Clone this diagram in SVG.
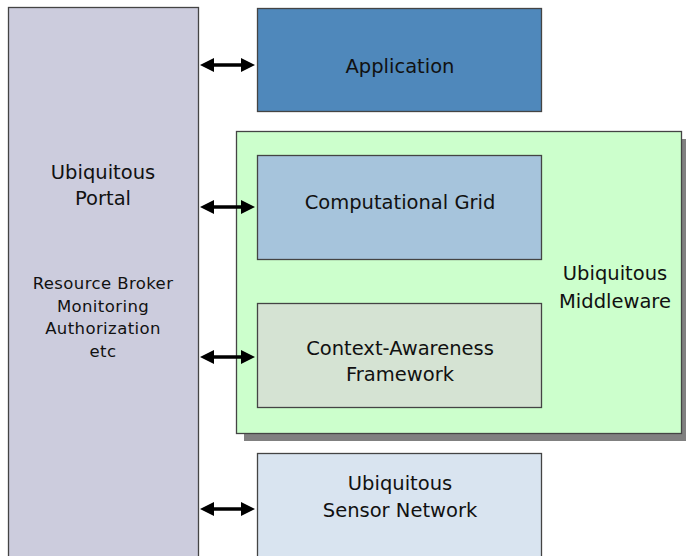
<svg xmlns="http://www.w3.org/2000/svg" width="686" height="556" viewBox="0 0 686 556">
<style>
.box{stroke:#444;stroke-width:1.3}
.t{font-family:"DejaVu Sans","Liberation Sans",sans-serif;font-size:19.5px;fill:#111;text-anchor:middle}
.s{font-family:"DejaVu Sans","Liberation Sans",sans-serif;font-size:16.5px;letter-spacing:0.4px;fill:#111;text-anchor:middle}
.c{stroke:#000;stroke-width:3.5;fill:none;marker-start:url(#ah);marker-end:url(#ah)}
</style>
<defs>
<marker id="ah" viewBox="0 0 14 14" refX="8" refY="7" markerWidth="14" markerHeight="14" orient="auto-start-reverse" markerUnits="userSpaceOnUse">
<path d="M0,0 L14,7 L0,14 Z" fill="#000"/>
</marker>
</defs>
<rect width="686" height="556" fill="#fff"/>
<g id="portal">
<rect class="box" x="8.5" y="7.5" width="190" height="560" fill="#ccccdd"/>
<text class="t" x="103" y="179">Ubiquitous</text>
<text class="t" x="103" y="205">Portal</text>
<text class="s" x="103" y="289">Resource Broker</text>
<text class="s" x="103" y="312">Monitoring</text>
<text class="s" x="103" y="334">Authorization</text>
<text class="s" x="103" y="357">etc</text>
</g>
<g id="application">
<rect class="box" x="257.5" y="8.5" width="284" height="103" fill="#4f88bb"/>
<text class="t" x="400" y="73">Application</text>
</g>
<g id="middleware">
<rect x="244" y="139" width="445" height="302" fill="#808080"/>
<rect class="box" x="236.5" y="131.5" width="445" height="302" fill="#ccffcc"/>
<text class="t" x="615" y="280">Ubiquitous</text>
<text class="t" x="615" y="308">Middleware</text>
</g>
<g id="grid">
<rect class="box" x="257.5" y="155.5" width="284" height="104" fill="#a6c4dc"/>
<text class="t" x="400" y="209">Computational Grid</text>
</g>
<g id="context">
<rect class="box" x="257.5" y="303.5" width="284" height="104" fill="#d5e3d3"/>
<text class="t" x="400" y="355">Context-Awareness</text>
<text class="t" x="400" y="381">Framework</text>
</g>
<g id="sensor">
<rect class="box" x="257.5" y="453.5" width="284" height="120" fill="#d9e4f0"/>
<text class="t" x="400" y="490">Ubiquitous</text>
<text class="t" x="400" y="517">Sensor Network</text>
</g>
<g id="connectors">
<line class="c" x1="206" y1="65" x2="249" y2="65"/>
<line class="c" x1="206" y1="207" x2="249" y2="207"/>
<line class="c" x1="206" y1="357" x2="249" y2="357"/>
<line class="c" x1="206" y1="509" x2="249" y2="509"/>
</g>
</svg>
